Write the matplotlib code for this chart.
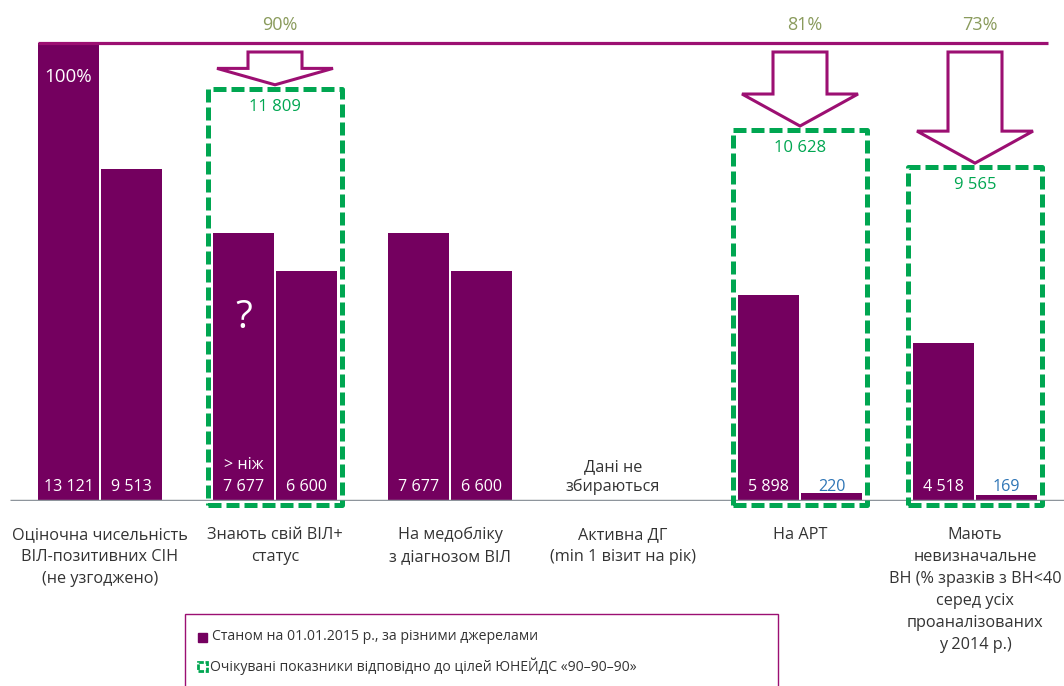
import numpy as np
import matplotlib.pyplot as plt
from matplotlib.patches import Rectangle, Polygon

plt.rcParams['font.family'] = ['Open Sans', 'DejaVu Sans']

# cascade data (people)
categories = ["Оціночна чисельність\nВІЛ-позитивних СІН\n(не узгоджено)",
              "Знають свій ВІЛ+\nстатус",
              "На медобліку\nз діагнозом ВІЛ",
              "Активна ДГ\n(min 1 візит на рік)",
              "На АРТ",
              "Мають\nневизначальне\nВН (% зразків з ВН<40\nсеред усіх\nпроаналізованих\nу 2014 р.)"]
left_vals = [13121, 7677, 7677, None, 5898, 4518]
right_vals = [9513, 6600, 6600, None, 220, 169]
target_idx = [1, 4, 5]
target_vals = [11809, 10628, 9565]
total = left_vals[0]

bar_col = '#74005f'
line_col = '#9c0f72'
green = '#00a651'
pct_col = '#8a9b5c'
blue = '#2e75b6'
txt_col = '#333333'

fig = plt.figure(figsize=(10.64, 6.86), dpi=100)
ax = fig.add_axes([0, 1 - 501 / 686, 1, 501 / 686])
ymax = total * 501 / 458
ax.set_xlim(-100 / 175, 964 / 175)
ax.set_ylim(0, ymax)
ax.axis('off')

sy = ymax / 501      # data units per pixel (vertical)
sx = 1 / 175         # data units per pixel (horizontal)


def Y(p):
    return (501 - p) * sy


x = np.arange(len(categories))
w = 0.343
off = 0.18

for i in x:
    if left_vals[i] is None:
        continue
    ax.bar(i - off, left_vals[i], w, color=bar_col, zorder=2)
    ax.bar(i + off, right_vals[i], w, color=bar_col, zorder=2)
    for xx, v in ((i - off, left_vals[i]), (i + off, right_vals[i])):
        c = 'white' if v > 1000 else blue
        ax.text(xx, Y(487), f"{v:,}".replace(",", " "), color=c,
                ha='center', va='center', fontsize=11.6, zorder=5)

# baseline and 100% line
ax.plot([-90 * sx, 964 * sx], [0, 0], color='#8e959c', lw=2.5,
        solid_capstyle='butt', zorder=3)
ax.plot([-off - w / 2, 948 / 175], [total, total], color=line_col, lw=2.3,
        solid_capstyle='butt', zorder=3)

ax.text(-off, Y(77), "100%", color='white', ha='center', va='center',
        fontsize=13.5, zorder=5)
ax.text(1 - off, Y(318), "?", color='white', ha='center', va='center',
        fontsize=28, zorder=5)
ax.text(1 - off, Y(465), "> ніж", color='white', ha='center', va='center',
        fontsize=11.6, zorder=5)
ax.text(3 - 12 * sx, Y(477), "Дані не\nзбираються", color=txt_col,
        ha='center', va='center', fontsize=11.7, linespacing=1.35)

# targets: dashed boxes, arrows and percentages
for i, t in zip(target_idx, target_vals):
    bx0 = i - 67 * sx
    box = Rectangle((bx0, -4 * sy), 134 * sx, t + 4 * sy, fill=False,
                    edgecolor=green, lw=3.6, linestyle=(0, (2.6, 1.0)),
                    joinstyle='round', zorder=4, clip_on=False)
    ax.add_patch(box)
    ax.text(i, t - 18 * sy, f"{t:,}".replace(",", " "), color=green,
            ha='center', va='center', fontsize=12)

    top = Y(52)
    tip = t + 4 * sy
    head = min(0.5 * (top - tip), 32 * sy)
    hw, sw = 58 * sx, 27 * sx
    pts = [(i - sw, top), (i + sw, top), (i + sw, tip + head),
           (i + hw, tip + head), (i, tip), (i - hw, tip + head),
           (i - sw, tip + head)]
    ax.add_patch(Polygon(pts, closed=True, facecolor='white',
                         edgecolor=line_col, lw=2.2, zorder=4))
    ax.text(i + 5 * sx, Y(25), f"{round(100 * t / total)}%", color=pct_col,
            ha='center', va='center', fontsize=13)

# category labels under the axis
for i, lab in enumerate(categories):
    xx = i if i != 3 else i - 2 * sx
    ax.text(xx, Y(527), lab, color=txt_col, ha='center', va='top',
            fontsize=11.7, linespacing=1.5, clip_on=False)

# legend box
fig.add_artist(Rectangle((185 / 1064, -0.01), 593 / 1064, (686 - 614) / 686 + 0.01,
                         transform=fig.transFigure, fill=False,
                         edgecolor=line_col, lw=1))
fig.add_artist(Rectangle((198 / 1064, (686 - 642) / 686), 9 / 1064, 9 / 686,
                         transform=fig.transFigure, color=bar_col))
fig.text(212 / 1064, (686 - 637) / 686, "Станом на 01.01.2015 р., за різними джерелами",
         color=txt_col, fontsize=10.1, va='center')
fig.add_artist(Rectangle((198 / 1064, (686 - 671) / 686), 9 / 1064, 9 / 686,
                         transform=fig.transFigure, fill=False,
                         edgecolor=green, lw=2, linestyle=(0, (2, 0.6))))
fig.text(210 / 1064, (686 - 666) / 686,
         "Очікувані показники відповідно до цілей ЮНЕЙДС «90–90–90»",
         color=txt_col, fontsize=10.1, va='center')

fig.savefig('out.png', dpi=100)
